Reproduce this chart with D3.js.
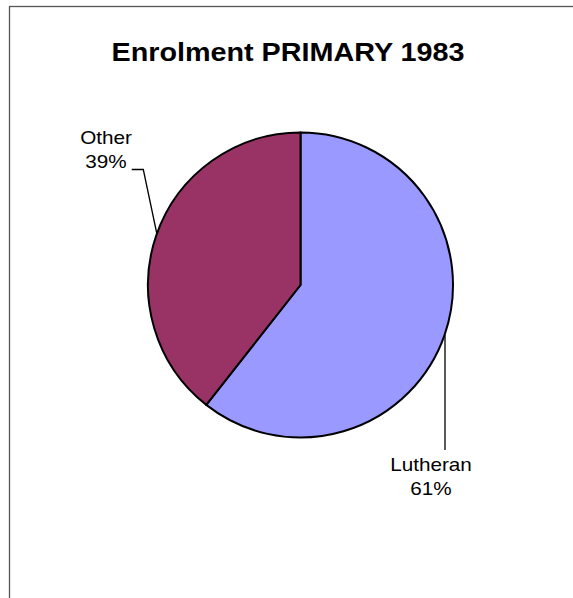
<!DOCTYPE html>
<html>
<head>
<meta charset="utf-8">
<script src="https://cdn.jsdelivr.net/npm/d3@7"></script>
<style>
html,body{margin:0;padding:0;background:#fff;}
svg{display:block;}
text{font-family:"Liberation Sans",Arial,sans-serif;fill:#000;}
</style>
</head>
<body>
<script>
const categories = ["Lutheran", "Other"];
const values = [60.6, 39.4];
const percentLabels = ["61%", "39%"];
const colors = ["#9999FF", "#993366"];
const title = "Enrolment PRIMARY 1983";

const W = 573, H = 598;
const svg = d3.select("body").append("svg").attr("width", W).attr("height", H);

// outer border (chart area extends beyond the window on right/bottom)
svg.append("rect").attr("x", 9.5).attr("y", 6.5).attr("width", W + 20).attr("height", H + 20)
  .attr("fill", "#fff").attr("stroke", "#555").attr("stroke-width", 1.3);

const sx = 1.15;
function stretchedText(x, y, str, size, weight) {
  const g = svg.append("g").attr("transform", `translate(${x},${y}) scale(${sx},1)`);
  g.append("text").attr("text-anchor", "middle").attr("font-size", size)
    .attr("font-weight", weight || "normal").text(str);
}

stretchedText(288, 61, title, 25, "bold");

const cx = 300.5, cy = 285, r = 152.5;
const pie = d3.pie().sort(null).value(d => d.v);
const arcs = pie(categories.map((c, i) => ({c, v: values[i], color: colors[i]})));
const arc = d3.arc().innerRadius(0).outerRadius(r);

const g = svg.append("g").attr("transform", `translate(${cx},${cy})`);
g.selectAll("path").data(arcs).join("path")
  .attr("d", arc).attr("fill", d => d.data.color)
  .attr("stroke", "#000").attr("stroke-width", 2).attr("stroke-linejoin", "round");

// leader lines & labels
const leaders = {
  "Lutheran": {pts: [[445, 335], [445, 450]], lx: 431, ly: 471},
  "Other": {pts: [[156.7, 233], [143.3, 169.5], [131.7, 169.5]], lx: 106, ly: 144}
};
arcs.forEach((a, i) => {
  const L = leaders[a.data.c];
  svg.append("path").attr("d", d3.line()(L.pts)).attr("fill", "none")
    .attr("stroke", "#000").attr("stroke-width", 1.3);
  stretchedText(L.lx, L.ly, a.data.c, 18);
  stretchedText(L.lx, L.ly + 23.5, percentLabels[i], 18);
});
</script>
</body>
</html>
